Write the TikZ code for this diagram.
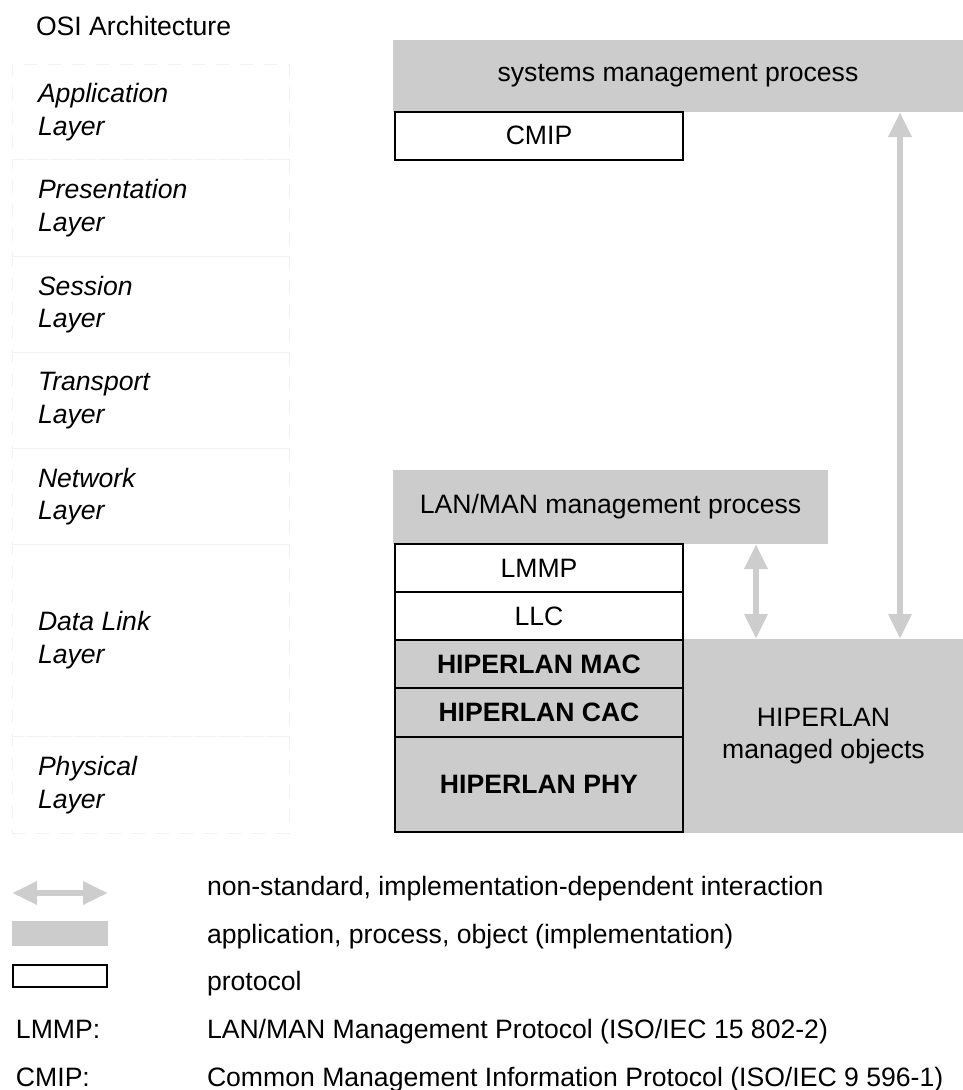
\documentclass[tikz,border=0pt]{standalone}
\usepackage{fontspec}
\setmainfont{Liberation Sans}
\usetikzlibrary{arrows.meta}
\definecolor{boxgray}{HTML}{CCCCCC}
\definecolor{arrgray}{HTML}{CDCDCD}
\definecolor{faint}{HTML}{F1F1F1}
\begin{document}
\begin{tikzpicture}[x=1pt,y=-1pt,
  every node/.style={font=\fontsize{26.6}{32.5}\selectfont, inner sep=0pt, outer sep=0pt},
  procbox/.style={fill=boxgray, draw=none, anchor=north west},
  protobox/.style={draw=black, line width=2pt, fill=white, anchor=north west},
  hipbox/.style={draw=black, line width=2pt, fill=boxgray, anchor=north west, font=\fontsize{26.6}{32.5}\selectfont\bfseries},
  layerbox/.style={draw=faint, dash pattern=on 13pt off 11pt, line width=1pt, anchor=north west, minimum width=277pt},
  layerlabel/.style={anchor=west, align=left, font=\fontsize{26.6}{32.5}\selectfont\itshape},
  interaction/.style={draw=arrgray, line width=6.5pt, {Triangle[width=22pt,length=25pt]}-{Triangle[width=22pt,length=25pt]}},
  legendtext/.style={anchor=base west},
]
\useasboundingbox (0,0) rectangle (963,1090);

% title
\node[anchor=base west] (title) at (36,35) {OSI Architecture};

% OSI layers
\node[layerbox, minimum height=95pt] (lapp) at (12,64) {};
\node[layerbox, minimum height=97pt] (lpre) at (12,159) {};
\node[layerbox, minimum height=96pt] (lses) at (12,256) {};
\node[layerbox, minimum height=96pt] (ltra) at (12,352) {};
\node[layerbox, minimum height=96pt] (lnet) at (12,448) {};
\node[layerbox, minimum height=192pt] (ldat) at (12,544) {};
\node[layerbox, minimum height=97pt] (lphy) at (12,736) {};
\node[layerlabel] (tapp) at (38,112) {Application\\Layer};
\node[layerlabel] (tpre) at (38,208) {Presentation\\Layer};
\node[layerlabel] (tses) at (38,304.5) {Session\\Layer};
\node[layerlabel] (ttra) at (38,400.5) {Transport\\Layer};
\node[layerlabel] (tnet) at (38,496.5) {Network\\Layer};
\node[layerlabel] (tdat) at (38,640) {Data Link\\Layer};
\node[layerlabel] (tphy) at (38,785) {Physical\\Layer};

% systems management
\node[procbox, minimum width=570pt, minimum height=72pt] (smp) at (393,40) {systems management process};
\node[protobox, minimum width=288pt, minimum height=47.5pt] (cmip) at (395,112) {CMIP};

% LAN/MAN management
\node[procbox, minimum width=435pt, minimum height=74pt] (lmp) at (393,470) {LAN/MAN management process};
\node[procbox, minimum width=279pt, minimum height=194pt, align=center] (hmo) at (684,639) {HIPERLAN\\managed objects};
\node[protobox, minimum width=288pt, minimum height=48pt] (lmmp) at (395,544) {LMMP};
\node[protobox, minimum width=288pt, minimum height=48pt] (llc) at (395,592) {LLC};
\node[hipbox, minimum width=288pt, minimum height=48pt] (mac) at (395,640) {HIPERLAN MAC};
\node[hipbox, minimum width=288pt, minimum height=49pt] (cac) at (395,688) {HIPERLAN CAC};
\node[hipbox, minimum width=288pt, minimum height=95pt] (phy) at (395,737) {HIPERLAN PHY};

% interactions
\coordinate (xs) at (756,0);
\coordinate (xl) at (900,0);
\draw[interaction] (lmp.south -| xs) -- (hmo.north -| xs);
\draw[interaction] (smp.south -| xl) -- (hmo.north -| xl);

% legend
\coordinate (lgA) at (12,893);
\coordinate (lgB) at (108,893);
\draw[interaction] (lgA) -- (lgB);
\node[procbox, minimum width=96pt, minimum height=25pt] (lgproc) at (12,921) {};
\node[protobox, minimum width=94pt, minimum height=22pt] (lgproto) at (13,965) {};
\node[legendtext] (lt1) at (207,895) {non-standard, implementation-dependent interaction};
\node[legendtext] (lt2) at (207,943) {application, process, object (implementation)};
\node[legendtext] (lt3) at (207,990) {protocol};
\node[legendtext] (lt4a) at (16,1038) {LMMP:};
\node[legendtext] (lt4b) at (207,1038) {LAN/MAN Management Protocol (ISO/IEC 15 802-2)};
\node[legendtext] (lt5a) at (16,1086) {CMIP:};
\node[legendtext] (lt5b) at (207,1086) {Common Management Information Protocol (ISO/IEC 9 596-1)};
\end{tikzpicture}
\end{document}
